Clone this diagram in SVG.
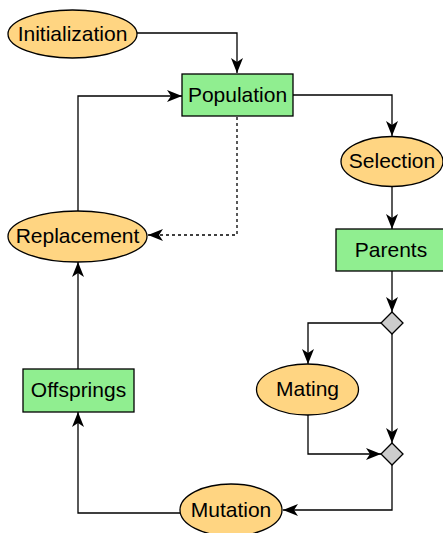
<svg xmlns="http://www.w3.org/2000/svg" width="443" height="533" viewBox="0 0 443 533">
<style>
.ell{fill:#FFD582;stroke:#000;stroke-width:1.3}
.box{fill:#90EE90;stroke:#000;stroke-width:1.3}
.dia{fill:#CCCCCC;stroke:#000;stroke-width:1.3}
.lbl{font-family:"Liberation Sans",Arial,sans-serif;font-size:21px;fill:#000;text-anchor:middle}
.edge{fill:none;stroke:#000;stroke-width:1.3;marker-end:url(#arr)}
.dot{stroke-dasharray:3,3}
</style>
<defs>
<marker id="arr" markerUnits="userSpaceOnUse" markerWidth="16" markerHeight="14" viewBox="0 0 16 14" refX="15" refY="7" orient="auto">
<path d="M0,1 L15,7 L0,13 L4,7 z" fill="#000"/>
</marker>
</defs>
<rect width="443" height="533" fill="#fff"/>
<g id="connectors">
<path class="edge" d="M137,33 H237 V73"/>
<path class="edge" d="M293,95 H392 V136"/>
<path class="edge" d="M392,187 V229"/>
<path class="edge" d="M392,271 V312"/>
<path class="edge" d="M381,323 H308 V364"/>
<path class="edge" d="M392,334 V443"/>
<path class="edge" d="M308,415 V454 H381"/>
<path class="edge" d="M392,465 V510 H283"/>
<path class="edge" d="M180,513 H78 V412"/>
<path class="edge" d="M78,369 V262"/>
<path class="edge" d="M78,211 V96 H182"/>
<path class="edge dot" d="M237,117 V235 H148"/>
</g>
<g id="initialization"><ellipse class="ell" cx="72.5" cy="34" rx="64.5" ry="24"/><text class="lbl" x="72.5" y="40.5">Initialization</text></g>
<g id="population"><rect class="box" x="182" y="74" width="111" height="42"/><text class="lbl" x="237.5" y="101.5">Population</text></g>
<g id="selection"><ellipse class="ell" cx="392" cy="161.5" rx="51" ry="25"/><text class="lbl" x="392" y="168">Selection</text></g>
<g id="parents"><rect class="box" x="336" y="229" width="112" height="42"/><text class="lbl" x="391" y="256.5">Parents</text></g>
<g id="split"><path class="dia" d="M392,312 L403,323 L392,334 L381,323 z"/></g>
<g id="mating"><ellipse class="ell" cx="307.5" cy="389.5" rx="51" ry="25.5"/><text class="lbl" x="307.5" y="396">Mating</text></g>
<g id="merge"><path class="dia" d="M392,443 L403,454 L392,465 L381,454 z"/></g>
<g id="mutation"><ellipse class="ell" cx="231" cy="510" rx="51" ry="26"/><text class="lbl" x="231" y="516.5">Mutation</text></g>
<g id="offsprings"><rect class="box" x="23" y="369" width="111" height="43"/><text class="lbl" x="78.5" y="397">Offsprings</text></g>
<g id="replacement"><ellipse class="ell" cx="77.5" cy="236.5" rx="69.5" ry="25.5"/><text class="lbl" x="77.5" y="243">Replacement</text></g>
</svg>
